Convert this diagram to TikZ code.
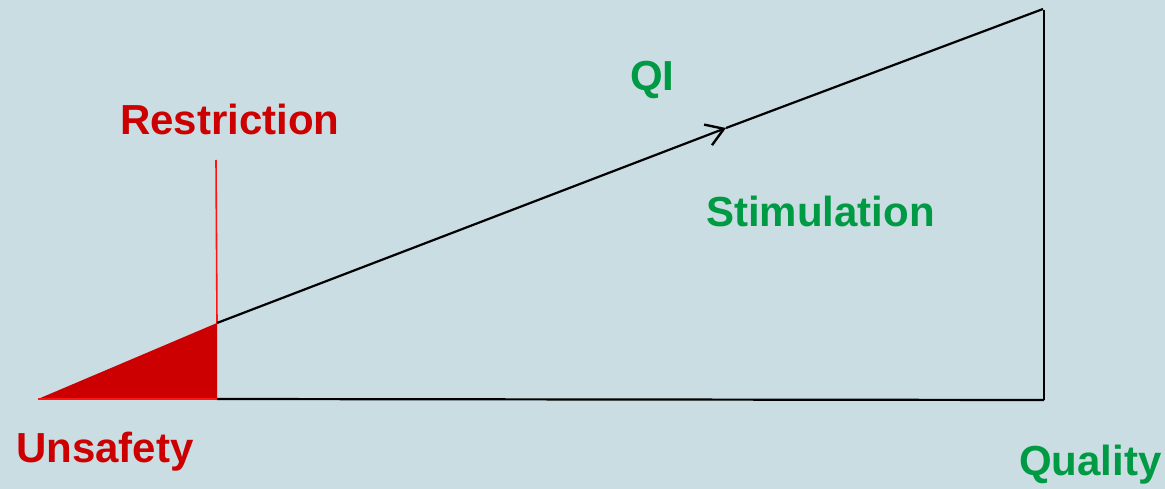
\documentclass[tikz,border=0pt]{standalone}
\usepackage{fontspec}
\setmainfont{Liberation Sans}
\usetikzlibrary{arrows.meta}
\definecolor{bg}{RGB}{201,221,226}
\definecolor{dred}{RGB}{204,0,0}
\definecolor{lred}{RGB}{255,20,20}
\definecolor{dgreen}{RGB}{0,153,68}
\tikzset{
  lbl/.style={anchor=base west,inner sep=0pt,font=\fontsize{42}{48}\selectfont\bfseries},
  redlbl/.style={lbl,text=dred},
  greenlbl/.style={lbl,text=dgreen},
  edge/.style={line width=2.2pt,black},
}
\begin{document}
\begin{tikzpicture}[x=1pt,y=-1pt]
\fill[bg] (0,0) rectangle (1165,489);
\useasboundingbox (0,0) rectangle (1165,489);
\coordinate (tip) at (38,399);
\coordinate (rb) at (217,399);
\coordinate (rt) at (217,323);
\coordinate (rtop) at (216,160);
\coordinate (mid) at (726,128);
\coordinate (top) at (1043,9);
\coordinate (qb) at (1044,400);
\coordinate (qt) at (1044,10);
\fill[dred] (tip) -- (rb) -- (rt) -- cycle;
\draw[lred,line width=1.6pt] (rtop) -- (rt);
\draw[lred,line width=1.2pt] (tip) -- (rb);
\draw[edge,-{Straight Barb[length=17pt,width=22pt,line width=2.4pt]}] (rt) -- (mid);
\draw[edge] (mid) -- (top);
\draw[edge] (qt) -- (qb);
\draw[edge] (rb) -- (qb);
\node[redlbl] (restr) at (120,135) {Restriction};
\node[greenlbl] (qi) at (630,91) {QI};
\node[greenlbl] (stim) at (706,227) {Stimulation};
\node[redlbl] (unsafe) at (16,462) {Unsafety};
\node[greenlbl] (qual) at (1019,475) {Quality};
\end{tikzpicture}
\end{document}
